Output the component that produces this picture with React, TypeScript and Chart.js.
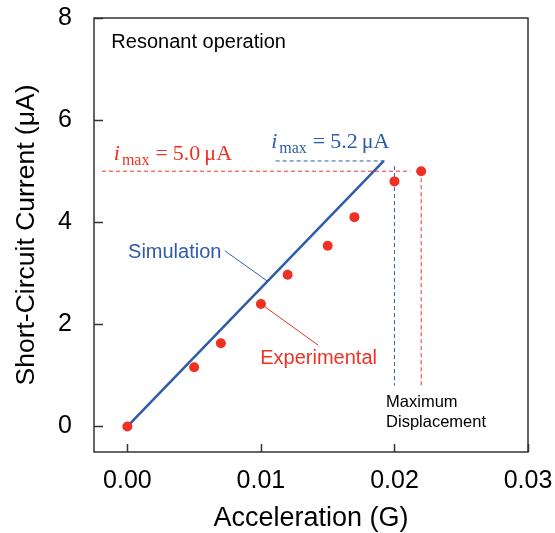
import { useEffect, useRef } from "react";
import { Chart, registerables } from "chart.js";

Chart.register(...registerables);

const SANS = "'Liberation Sans', Arial, Helvetica, sans-serif";
const SERIF = "'Liberation Serif', 'Times New Roman', serif";
const RED = "#ee3124";
const BLUE = "#2f5caa";
const INK = "#000000";
const FRAME = "#333333";

// Measured short-circuit current vs. acceleration
const accelExp = [0, 0.005, 0.007, 0.01, 0.012, 0.015, 0.017, 0.02, 0.022];
const currentExp = [0, 1.16, 1.63, 2.4, 2.97, 3.54, 4.1, 4.8, 5.0];

// Simulated response: linear from the origin up to its maximum
const accelSim = [0, 0.0192];
const currentSim = [0, 5.2];

// Peak currents and the accelerations at maximum displacement
const imaxExp = 5.0;
const imaxSim = 5.2;
const accelMaxExp = 0.022;
const accelMaxSim = 0.02;

// Axes
const xTicks = [0, 0.01, 0.02, 0.03];
const yTicks = [0, 2, 4, 6, 8];
const xRange = [-0.0025, 0.03];
const yRange = [-0.5, 8];

type P = { x: number; y: number };
const zip = (xs: number[], ys: number[]): P[] => xs.map((x, i) => ({ x, y: ys[i] }));

function drawImax(ctx: CanvasRenderingContext2D, x: number, y: number, value: string, color: string) {
  ctx.save();
  ctx.fillStyle = color;
  ctx.textAlign = "left";
  ctx.textBaseline = "alphabetic";
  let cx = x;
  ctx.font = `italic 22px ${SERIF}`;
  ctx.fillText("i", cx, y);
  cx += ctx.measureText("i").width + 2;
  ctx.font = `16px ${SERIF}`;
  ctx.fillText("max", cx, y + 5);
  cx += ctx.measureText("max").width + 6;
  ctx.font = `22px ${SERIF}`;
  ctx.fillText("=", cx, y);
  cx += ctx.measureText("=").width + 5;
  ctx.fillText(value, cx, y);
  cx += ctx.measureText(value).width + 4;
  ctx.fillText("μA", cx, y);
  ctx.restore();
}

const frameAndNotes = {
  id: "frameAndNotes",
  beforeDatasetsDraw(chart: any) {
    const { ctx, chartArea: a, scales } = chart;
    const xs = scales.x;
    const ys = scales.y;
    ctx.save();
    ctx.strokeStyle = FRAME;
    ctx.lineWidth = 1.5;
    ctx.strokeRect(a.left, a.top, a.right - a.left, a.bottom - a.top);
    ctx.beginPath();
    for (const v of yTicks) {
      const py = Math.round(ys.getPixelForValue(v)) + 0.5;
      ctx.moveTo(a.left, py);
      ctx.lineTo(a.left + 9, py);
    }
    for (const v of xTicks) {
      const px = Math.round(xs.getPixelForValue(v)) + 0.5;
      ctx.moveTo(px, a.bottom);
      ctx.lineTo(px, a.bottom - 8);
    }
    ctx.stroke();
    ctx.restore();
  },
  afterDatasetsDraw(chart: any) {
    const { ctx, scales } = chart;
    const X = (v: number) => scales.x.getPixelForValue(v);
    const Y = (v: number) => scales.y.getPixelForValue(v);
    ctx.save();
    ctx.textAlign = "left";
    ctx.textBaseline = "middle";

    ctx.fillStyle = INK;
    ctx.font = `20px ${SANS}`;
    ctx.fillText("Resonant operation", X(-0.0012), Y(7.53));

    ctx.fillStyle = BLUE;
    ctx.fillText("Simulation", X(0.00005), Y(3.4));

    ctx.fillStyle = RED;
    ctx.fillText("Experimental", X(0.00995), Y(1.325));

    ctx.fillStyle = INK;
    ctx.font = `16.5px ${SANS}`;
    ctx.fillText("Maximum", X(0.01937), Y(0.47));
    ctx.fillText("Displacement", X(0.01937), Y(0.08));
    ctx.restore();

    drawImax(ctx, X(-0.00102), Y(5.21), imaxExp.toFixed(1), RED);
    drawImax(ctx, X(0.01077), Y(5.45), imaxSim.toFixed(1), BLUE);
  },
};

export default function App() {
  const ref = useRef<HTMLCanvasElement | null>(null);

  useEffect(() => {
    document.body.style.margin = "0";
    const canvas = ref.current;
    if (!canvas) return;

    const simSlope = currentSim[1] / accelSim[1];
    const dashed = (data: P[], color: string) => ({
      data,
      showLine: true,
      borderColor: color,
      borderWidth: 1,
      borderDash: [4, 3],
      pointRadius: 0,
    });
    const leader = (data: P[], color: string) => ({
      data,
      showLine: true,
      borderColor: color,
      borderWidth: 1,
      pointRadius: 0,
    });

    const chart = new Chart(canvas, {
      type: "scatter",
      data: {
        datasets: [
          {
            label: "Experimental",
            data: zip(accelExp, currentExp),
            showLine: false,
            pointRadius: 5,
            pointBackgroundColor: RED,
            pointBorderWidth: 0,
          },
          {
            label: "Simulation",
            data: zip(accelSim, currentSim),
            showLine: true,
            borderColor: BLUE,
            borderWidth: 2.5,
            pointRadius: 0,
          },
          leader([{ x: 0.0073, y: 3.44 }, { x: 0.0105, y: 0.0105 * simSlope }], BLUE),
          leader([{ x: accelExp[3], y: currentExp[3] }, { x: 0.0143, y: 1.59 }], RED),
          dashed([{ x: -0.0019, y: imaxExp }, { x: 0.0212, y: imaxExp }], RED),
          dashed([{ x: accelMaxExp, y: imaxExp }, { x: accelMaxExp, y: 0.8 }], RED),
          dashed([{ x: 0.0111, y: imaxSim }, { x: 0.0194, y: imaxSim }], BLUE),
          dashed([{ x: accelMaxSim, y: 5.1 }, { x: accelMaxSim, y: 0.8 }], BLUE),
        ],
      },
      options: {
        responsive: false,
        animation: false,
        events: [],
        layout: { autoPadding: false, padding: { top: 18, right: 27, left: 0, bottom: 0 } },
        plugins: { legend: { display: false }, tooltip: { enabled: false } },
        scales: {
          x: {
            type: "linear",
            min: xRange[0],
            max: xRange[1],
            grid: { display: false, drawTicks: false },
            border: { display: false },
            afterBuildTicks: (s: any) => {
              s.ticks = xTicks.map((value) => ({ value }));
            },
            afterFit: (s: any) => {
              s.height = 81;
              s.paddingLeft = 0;
              s.paddingRight = 0;
            },
            ticks: {
              padding: 14,
              color: INK,
              font: { family: SANS, size: 25 },
              maxRotation: 0,
              callback: (v: any) => Number(v).toFixed(2),
            },
            title: {
              display: true,
              text: "Acceleration (G)",
              color: INK,
              font: { family: SANS, size: 27, lineHeight: 1.1 },
              padding: { top: 0, bottom: 0 },
            },
          },
          y: {
            type: "linear",
            min: yRange[0],
            max: yRange[1],
            grid: { display: false, drawTicks: false },
            border: { display: false },
            afterBuildTicks: (s: any) => {
              s.ticks = yTicks.map((value) => ({ value }));
            },
            afterFit: (s: any) => {
              s.width = 94;
              s.paddingTop = 0;
              s.paddingBottom = 0;
            },
            ticks: {
              padding: 22,
              color: INK,
              font: { family: SANS, size: 25 },
              callback: (v: any) => String(v),
            },
            title: {
              display: true,
              text: "Short-Circuit Current (μA)",
              color: INK,
              font: { family: SANS, size: 26.5, lineHeight: 1.1 },
              padding: { top: 12, bottom: 0 },
            },
          },
        },
      },
      plugins: [frameAndNotes],
    });

    return () => chart.destroy();
  }, []);

  return (
    <div style={{ width: 555, height: 533 }}>
      <canvas ref={ref} width={555} height={533} style={{ display: "block" }} />
    </div>
  );
}
